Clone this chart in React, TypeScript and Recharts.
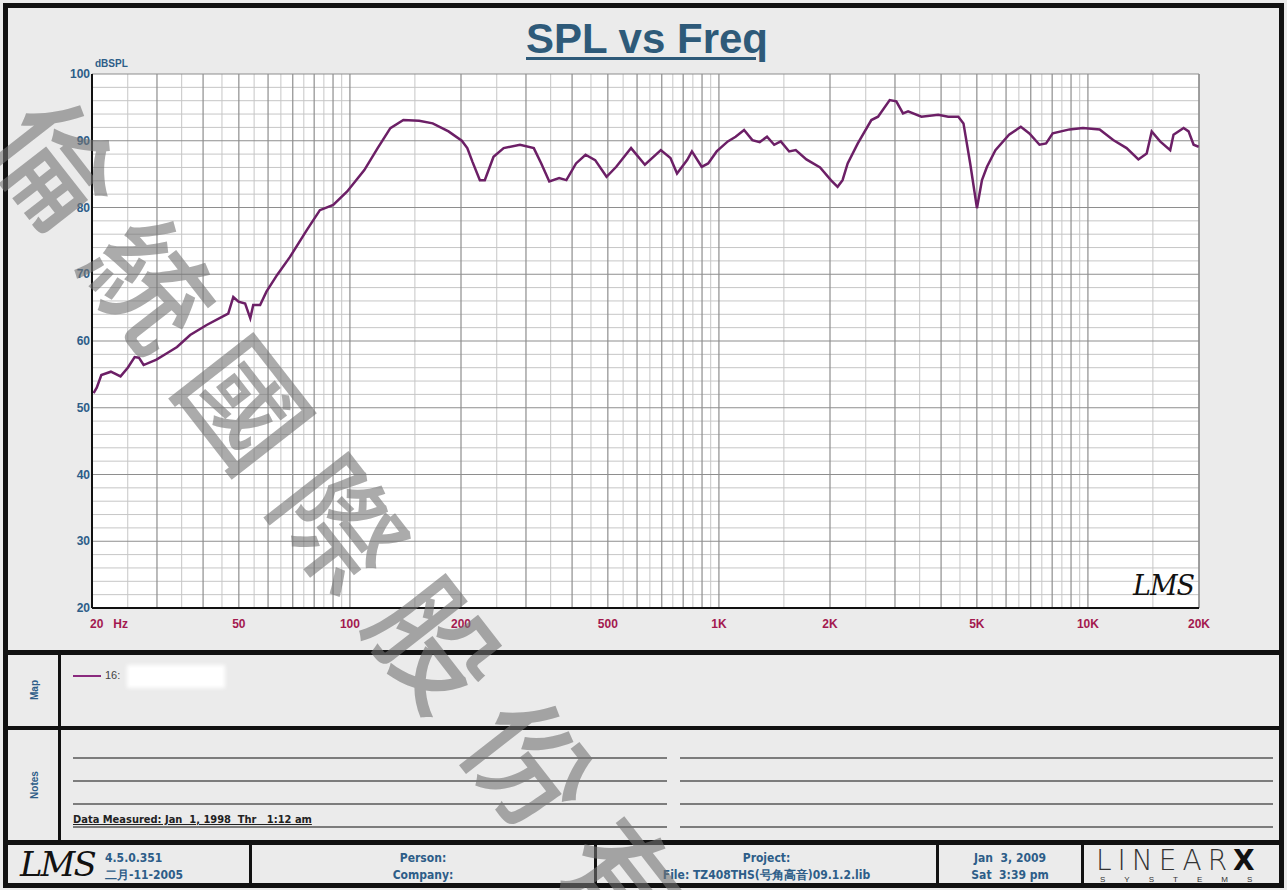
import React from "react";
import { LineChart, Line, XAxis, YAxis, CartesianGrid } from "recharts";

// SPL response (Hz / dBSPL)
const freqs = [
  20.2, 20.6, 21.2, 22.5, 23.9, 25.0, 26.1, 26.8, 27.6, 29.9, 32.0, 34.0, 36.9,
  40.9, 45.0, 46.8, 48.3, 49.9, 52.0, 53.7, 54.7, 57.1, 59.4, 63.5, 68.8, 76.4,
  82.9, 90.1, 98.3, 109.4, 118.9, 128.7, 139.6, 154, 167.6, 185, 201, 208, 215,
  225, 232, 245, 261, 289, 315, 330, 347, 369, 386, 410, 435, 462, 496, 527,
  578, 630, 696, 739, 770, 820, 845, 898, 935, 986, 1057, 1110, 1170, 1232,
  1290, 1350, 1412, 1471, 1550, 1615, 1726, 1880, 2011, 2097, 2163, 2233, 2379,
  2589, 2699, 2903, 3025, 3154, 3256, 3538, 3928, 4183, 4455, 4600, 4797, 5003,
  5163, 5327, 5615, 6113, 6579, 6940, 7392, 7701, 8028, 8916, 9693, 10760,
  11710, 12730, 13700, 14430, 14890, 15690, 16710, 17060, 18170, 18740, 19340,
  19960,
];
const spl = [
  52.2, 53.0, 54.9, 55.4, 54.7, 56.0, 57.6, 57.5, 56.4, 57.2, 58.2, 59.1, 60.9,
  62.4, 63.6, 64.1, 66.6, 65.9, 65.6, 63.4, 65.4, 65.4, 67.4, 69.9, 72.6, 76.6,
  79.6, 80.4, 82.4, 85.6, 88.9, 91.9, 93.1, 93.0, 92.6, 91.4, 90.0, 88.9, 86.8,
  84.1, 84.1, 87.6, 88.9, 89.4, 88.9, 86.6, 83.9, 84.4, 84.1, 86.6, 87.9, 87.1,
  84.6, 86.1, 88.9, 86.4, 88.6, 87.4, 85.1, 87.1, 88.4, 86.1, 86.6, 88.4, 89.9,
  90.6, 91.6, 90.1, 89.8, 90.6, 89.4, 89.9, 88.4, 88.6, 87.2, 86.0, 84.1, 83.1,
  84.1, 86.6, 89.6, 93.1, 93.6, 96.1, 95.9, 94.1, 94.4, 93.6, 93.9, 93.6, 93.6,
  92.6, 86.6, 79.9, 84.1, 86.1, 88.6, 90.9, 92.1, 91.1, 89.4, 89.6, 91.1, 91.7,
  91.9, 91.7, 90.1, 88.9, 87.2, 88.1, 91.4, 89.9, 88.6, 90.9, 91.9, 91.4, 89.4,
  89.1,
];

const xTicks = [20, 50, 100, 200, 500, 1000, 2000, 5000, 10000, 20000];
const xTickLabels = ["20", "50", "100", "200", "500", "1K", "2K", "5K", "10K", "20K"];
const yTicks = [20, 30, 40, 50, 60, 70, 80, 90, 100];
const yMinorTicks = [
  22, 24, 26, 28, 32, 34, 36, 38, 42, 44, 46, 48, 52, 54, 56, 58, 62, 64, 66, 68,
  72, 74, 76, 78, 82, 84, 86, 88, 92, 94, 96, 98,
];

// log grid: whole steps and half steps inside every decade
const decades = [10, 100, 1000, 10000];
const wholeSteps = [1, 2, 3, 4, 5, 6, 7, 8, 9];
const halfSteps = [1.5, 2.5, 3.5, 4.5, 5.5, 6.5, 7.5, 8.5, 9.5];

const data = freqs.map((f, i) => ({ freq: f, spl: spl[i] }));

const inRange = (f: number) => f >= 20 && f <= 20000;
const gridWhole = decades
  .flatMap((d) => wholeSteps.map((s) => d * s))
  .concat([20000])
  .filter(inRange);
const gridHalf = decades.flatMap((d) => halfSteps.map((s) => d * s)).filter(inRange);

const BLUE = "#2d5d88";
const LABEL_FONT = "'Liberation Sans', Arial, sans-serif";
const NARROW = "'Liberation Sans Narrow', 'DejaVu Sans Condensed', Arial, sans-serif";

const XTick = (props: any) => {
  const { x, y, payload } = props;
  const idx = xTicks.indexOf(payload.value);
  const label = idx >= 0 ? xTickLabels[idx] : "";
  if (idx === 0) {
    return (
      <text x={x - 2} y={y + 12} fill="#a3194f" fontSize={12} fontWeight={700} fontFamily={LABEL_FONT}>
        <tspan>20</tspan>
        <tspan dx={10}>Hz</tspan>
      </text>
    );
  }
  return (
    <text x={x} y={y + 12} textAnchor="middle" fill="#a3194f" fontSize={12} fontWeight={700} fontFamily={LABEL_FONT}>
      {label}
    </text>
  );
};

const YTick = (props: any) => {
  const { x, y, payload } = props;
  return (
    <text x={x + 6} y={y + 4} textAnchor="end" fill={BLUE} fontSize={12} fontWeight={700} fontFamily={LABEL_FONT}>
      {payload.value}
    </text>
  );
};

const watermark = ["倫", "統", "國", "際", "股", "份", "有"];

const box = (left: number, top: number, width: number, height: number, bg = "#111"): React.CSSProperties => ({
  position: "absolute",
  left,
  top,
  width,
  height,
  background: bg,
});

export default function App() {
  const noteRows = [757, 780, 803, 826];
  return (
    <div
      style={{
        position: "absolute",
        left: 0,
        top: 0,
        width: 1287,
        height: 890,
        background: "#ebebeb",
        overflow: "hidden",
        fontFamily: LABEL_FONT,
      }}
    >
      {/* frame + panel dividers */}
      <div
        style={{
          position: "absolute",
          left: 3,
          top: 3,
          width: 1281,
          height: 885,
          border: "5px solid #111",
          boxSizing: "border-box",
        }}
      />
      <div style={box(3, 650, 1281, 5)} />
      <div style={box(3, 726, 1281, 4)} />
      <div style={box(3, 840, 1281, 5)} />
      <div style={box(58, 655, 3, 186)} />
      <div style={box(249, 845, 3, 40)} />
      <div style={box(594, 845, 3, 40)} />
      <div style={box(936, 845, 3, 40)} />
      <div style={box(1081, 845, 3, 40)} />

      {/* title */}
      <div
        style={{
          position: "absolute",
          left: 0,
          top: 14,
          width: 1294,
          textAlign: "center",
          fontSize: 42,
          fontWeight: 700,
          color: "#2e5a79",
          textDecoration: "underline",
          textDecorationThickness: 3,
          textUnderlineOffset: 4,
          lineHeight: "50px",
        }}
      >
        SPL vs Freq
      </div>
      <div style={{ position: "absolute", left: 95, top: 58, fontSize: 10, fontWeight: 700, color: BLUE }}>
        dBSPL
      </div>

      <div style={{ position: "absolute", left: 0, top: 0 }}>
        <LineChart width={1287} height={650} data={data} margin={{ top: 74, right: 88, bottom: 12, left: 52 }}>
          <XAxis
            xAxisId="main"
            dataKey="freq"
            type="number"
            scale="log"
            domain={[20, 20000]}
            ticks={xTicks}
            interval={0}
            tick={<XTick />}
            tickLine={false}
            axisLine={{ stroke: "#111", strokeWidth: 2 }}
            height={30}
            allowDataOverflow
          />
          <YAxis
            yAxisId="main"
            type="number"
            domain={[20, 100]}
            ticks={yTicks}
            interval={0}
            tick={<YTick />}
            tickLine={false}
            axisLine={{ stroke: "#111", strokeWidth: 2 }}
            width={40}
          />
          <XAxis
            xAxisId="top"
            orientation="top"
            dataKey="freq"
            type="number"
            scale="log"
            domain={[20, 20000]}
            tick={false}
            tickLine={false}
            axisLine={{ stroke: "#111", strokeWidth: 2 }}
            height={0}
          />
          <YAxis
            yAxisId="right"
            orientation="right"
            type="number"
            domain={[20, 100]}
            tick={false}
            tickLine={false}
            axisLine={{ stroke: "#111", strokeWidth: 2 }}
            width={0}
          />
          <CartesianGrid
            xAxisId="main"
            yAxisId="main"
            verticalValues={gridHalf}
            horizontalValues={yMinorTicks}
            stroke="#c6c6c6"
            strokeWidth={1}
            fill="#ffffff"
          />
          <CartesianGrid
            xAxisId="main"
            yAxisId="main"
            verticalValues={gridWhole}
            horizontalValues={yTicks}
            stroke="#8e8e8e"
            strokeWidth={1.2}
          />
          <Line
            xAxisId="main"
            yAxisId="main"
            type="linear"
            dataKey="spl"
            stroke="#6c1f66"
            strokeWidth={2.5}
            dot={false}
            isAnimationActive={false}
          />
        </LineChart>
      </div>

      {/* LMS mark inside the plot */}
      <div
        style={{
          position: "absolute",
          left: 1133,
          top: 570,
          fontSize: 27,
          fontStyle: "italic",
          fontFamily: "'DejaVu Serif', serif",
          color: "#111",
          letterSpacing: -1,
        }}
      >
        LMS
      </div>

      {/* Map panel */}
      <div
        style={{
          position: "absolute",
          left: 34,
          top: 690,
          transform: "translate(-50%, -50%) rotate(-90deg)",
          fontSize: 10,
          fontWeight: 700,
          color: BLUE,
        }}
      >
        Map
      </div>
      <div style={box(73, 675, 28, 2, "#8a2a7e")} />
      <div style={{ position: "absolute", left: 105, top: 669, fontSize: 11, color: "#444" }}>16:</div>
      <div
        style={{
          position: "absolute",
          left: 130,
          top: 668,
          width: 92,
          height: 17,
          background: "#fff",
          boxShadow: "0 0 4px 3px #fff",
        }}
      />

      {/* Notes panel */}
      <div
        style={{
          position: "absolute",
          left: 34,
          top: 785,
          transform: "translate(-50%, -50%) rotate(-90deg)",
          fontSize: 10,
          fontWeight: 700,
          color: BLUE,
        }}
      >
        Notes
      </div>
      {noteRows.map((y) => (
        <React.Fragment key={y}>
          <div style={box(73, y, 594, 2, "#7c7c7c")} />
          <div style={box(680, y, 593, 2, "#7c7c7c")} />
        </React.Fragment>
      ))}
      <div
        style={{
          position: "absolute",
          left: 73,
          top: 813,
          fontSize: 11,
          fontWeight: 700,
          fontFamily: NARROW,
          color: "#222",
          textDecoration: "underline",
        }}
      >
        Data Measured: Jan&nbsp; 1, 1998&nbsp; Thr&nbsp;&nbsp; 1:12 am
      </div>

      {/* footer */}
      <div
        style={{
          position: "absolute",
          left: 20,
          top: 844,
          fontSize: 34,
          fontStyle: "italic",
          fontFamily: "'DejaVu Serif', serif",
          color: "#111",
          letterSpacing: -2,
        }}
      >
        LMS
      </div>
      <div style={{ position: "absolute", left: 105, top: 850, fontSize: 12, fontWeight: 700, fontFamily: NARROW, color: BLUE, lineHeight: "17px" }}>
        4.5.0.351
        <br />
        二月-11-2005
      </div>
      <div style={{ position: "absolute", left: 252, top: 850, width: 342, textAlign: "center", fontSize: 12, fontWeight: 700, fontFamily: NARROW, color: BLUE, lineHeight: "17px" }}>
        Person:
        <br />
        Company:
      </div>
      <div style={{ position: "absolute", left: 597, top: 850, width: 339, textAlign: "center", fontSize: 12, fontWeight: 700, fontFamily: NARROW, color: BLUE, lineHeight: "17px" }}>
        Project:
        <br />
        File: TZ408THS(号角高音)09.1.2.lib
      </div>
      <div style={{ position: "absolute", left: 939, top: 850, width: 142, textAlign: "center", fontSize: 12, fontWeight: 700, fontFamily: NARROW, color: BLUE, lineHeight: "17px", whiteSpace: "pre" }}>
        {"Jan  3, 2009\nSat  3:39 pm"}
      </div>
      <div
        style={{
          position: "absolute",
          left: 1096,
          top: 846,
          fontSize: 28,
          fontFamily: "'DejaVu Sans', sans-serif",
          fontWeight: 200,
          color: "#333",
          letterSpacing: 6,
          lineHeight: "30px",
        }}
      >
        LINEAR<span style={{ fontWeight: 900, color: "#111", letterSpacing: 0 }}>X</span>
      </div>
      <div
        style={{
          position: "absolute",
          left: 1100,
          top: 875,
          fontSize: 8,
          color: "#333",
          letterSpacing: 19,
        }}
      >
        SYSTEMS
      </div>

      {/* watermark */}
      {watermark.map((ch, i) => (
        <div
          key={i}
          style={{
            position: "absolute",
            left: 60 + 95 * i - 70,
            top: 160 + 120 * i - 70,
            width: 140,
            height: 140,
            lineHeight: "140px",
            textAlign: "center",
            fontSize: 122,
            fontWeight: 500,
            fontFamily: "'Noto Sans CJK TC', sans-serif",
            color: "rgba(115,115,115,0.6)",
            transform: "rotate(52deg)",
            pointerEvents: "none",
          }}
        >
          {ch}
        </div>
      ))}
    </div>
  );
}
